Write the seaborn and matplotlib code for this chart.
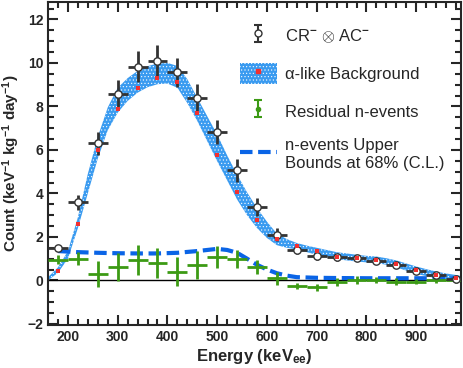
import matplotlib
matplotlib.use('Agg')
import matplotlib.pyplot as plt
import seaborn as sns
import numpy as np
import pandas as pd
from matplotlib.patches import Patch
from matplotlib.lines import Line2D

# bin centres (keV_ee)
energy = [180, 220, 260, 300, 340, 380, 420, 460, 500, 540, 580,
          620, 660, 700, 740, 780, 820, 860, 900, 940, 980]

# CR- x AC- data points
cr_ac = [1.47, 3.6, 6.3, 8.57, 9.83, 10.1, 9.56, 8.4, 6.82, 5.06, 3.38,
         2.1, 1.38, 1.1, 1.06, 1.03, 0.91, 0.72, 0.45, 0.23, 0.08]
cr_ac_err = [0.1, 0.35, 0.54, 0.65, 0.73, 0.7, 0.65, 0.65, 0.54, 0.53, 0.4,
             0.3, 0.18, 0.15, 0.15, 0.14, 0.13, 0.12, 0.1, 0.09, 0.08]

# alpha-like background central values (red squares)
bkg = [0.45, 2.6, 6.0, 7.9, 8.83, 9.3, 9.14, 7.68, 5.76, 4.06, 2.76,
       1.92, 1.57, 1.34, 1.09, 1.03, 0.94, 0.75, 0.47, 0.26, 0.11]

# alpha-like background band
band_e = [160, 180, 200, 220, 240, 260, 280, 300, 320, 340, 360, 380, 400,
          420, 440, 460, 480, 500, 520, 540, 560, 580, 600, 620, 640, 660,
          680, 700, 720, 740, 760, 780, 800, 820, 840, 860, 880, 900, 920,
          940, 960, 980, 990]
band_hi = [0.15, 0.6, 1.35, 2.9, 4.9, 6.6, 7.95, 8.85, 9.3, 9.63, 9.85, 9.97,
           10.0, 9.86, 9.25, 8.4, 7.55, 6.71, 5.75, 4.87, 4.05, 3.33, 2.7,
           2.15, 1.9, 1.72, 1.6, 1.5, 1.4, 1.3, 1.24, 1.18, 1.13, 1.1, 1.02,
           0.92, 0.78, 0.64, 0.52, 0.41, 0.32, 0.25, 0.2]
band_lo = [0.0, 0.35, 1.0, 2.4, 4.0, 5.6, 6.9, 7.71, 8.25, 8.63, 8.88, 9.02,
           9.05, 8.86, 8.15, 7.33, 6.4, 5.48, 4.6, 3.72, 3.0, 2.41, 1.95,
           1.62, 1.5, 1.42, 1.3, 1.18, 1.08, 0.98, 0.92, 0.87, 0.83, 0.8,
           0.72, 0.6, 0.45, 0.3, 0.2, 0.1, 0.04, 0.0, 0.0]

# residual n-events
resid = [0.95, 1.0, 0.29, 0.63, 0.95, 0.8, 0.41, 0.69, 1.06, 0.98, 0.6,
         0.1, -0.25, -0.32, -0.09, 0.01, 0.01, -0.05, -0.05, 0.0, 0.0]
resid_err = [0.2, 0.31, 0.6, 0.64, 0.7, 0.67, 0.65, 0.64, 0.5, 0.4, 0.32,
             0.3, 0.15, 0.15, 0.18, 0.18, 0.15, 0.15, 0.12, 0.1, 0.1]

# n-events upper bounds (68% C.L.)
ub_e = [180, 220, 260, 300, 340, 380, 420, 460, 500, 520, 540, 560, 580,
        600, 620, 640, 660, 700, 740, 800, 860, 920, 980]
ub = [1.35, 1.3, 1.27, 1.25, 1.24, 1.24, 1.27, 1.35, 1.45, 1.4, 1.27, 1.0,
      0.72, 0.5, 0.33, 0.22, 0.15, 0.12, 0.11, 0.1, 0.1, 0.1, 0.1]

bin_half = 20

sns.set_style('ticks')
plt.rcParams['font.family'] = ['Liberation Sans', 'DejaVu Sans']
plt.rcParams['mathtext.fontset'] = 'custom'
plt.rcParams['mathtext.rm'] = 'Liberation Sans'
plt.rcParams['mathtext.bf'] = 'Liberation Sans:bold'
plt.rcParams['mathtext.it'] = 'Liberation Sans:italic'
plt.rcParams['hatch.linewidth'] = 0.4

blue = '#3a9bf0'
dash_blue = '#0a64e6'
green = '#3c9a14'
grey = '#333333'
dash_pat = [3.0, 1.35]

fig = plt.figure(figsize=(4.63, 3.68), dpi=100)
ax = fig.add_axes([0.1037, 0.1168, 0.8920, 0.8778])

ax.axhline(0, color='black', lw=1.0, zorder=1)

# background band
ax.fill_between(band_e, band_lo, band_hi, facecolor=blue, edgecolor='white',
                hatch='.....', linewidth=0, zorder=2)

# upper bound dashed line
ub_df = pd.DataFrame({'E': ub_e, 'y': ub})
sns.lineplot(data=ub_df, x='E', y='y', ax=ax, color=dash_blue, lw=3,
             dashes=False, zorder=3).lines[-1].set_dashes(dash_pat)

# residual n-events
ax.errorbar(energy, resid, xerr=bin_half, yerr=resid_err, fmt='none',
            ecolor=green, elinewidth=2, zorder=4)

# CR- x AC- data
ax.errorbar(energy, cr_ac, xerr=bin_half, yerr=cr_ac_err, fmt='none',
            ecolor=grey, elinewidth=2, zorder=5)
sns.scatterplot(x=energy, y=cr_ac, ax=ax, marker='o', s=28,
                facecolor='white', edgecolor=grey, linewidth=1.0, zorder=6)

# background central values
sns.scatterplot(x=energy, y=bkg, ax=ax, marker='s', s=10, color='#f23030',
                linewidth=0, zorder=7)

ax.set_xlim(160, 990)
ax.set_ylim(-2.05, 12.8)
ax.set_xticks([200, 300, 400, 500, 600, 700, 800, 900])
ax.set_xticks(np.arange(180, 990, 20), minor=True)
ax.set_yticks([-2, 0, 2, 4, 6, 8, 10, 12])
ax.set_yticks(np.arange(-2, 12.8, 0.5), minor=True)
ax.set_yticklabels(['\u22122', '0', '2', '4', '6', '8', '10', '12'])
ax.tick_params(which='both', direction='in', top=True, right=True,
               width=1.5, labelsize=10)
ax.tick_params(which='major', length=7)
ax.tick_params(which='minor', length=4)
for lab in ax.get_xticklabels() + ax.get_yticklabels():
    lab.set_fontweight('bold')
for sp in ax.spines.values():
    sp.set_linewidth(1.5)

ax.set_xlabel(r'Energy (keV$_{\mathbf{ee}}$)', fontsize=12, fontweight='bold',
              labelpad=2)
ax.set_ylabel(r'Count (keV$^{\mathbf{-1}}$ kg$^{\mathbf{-1}}$ day$^{\mathbf{-1}}$)',
              fontsize=11, fontweight='bold', labelpad=4)

# legend proxies
h_cr = ax.errorbar([np.nan], [np.nan], yerr=[1], fmt='o', color=grey,
                   mfc='white', mec=grey, ms=5, capsize=3, elinewidth=1.5,
                   capthick=1.5)
h_bkg = (Patch(facecolor=blue, edgecolor='white', hatch='.....', lw=0),
         Line2D([], [], marker='s', ls='none', color='#f23030', ms=3))
h_res = ax.errorbar([np.nan], [np.nan], yerr=[1], fmt='o', color=green,
                    ms=3, capsize=3, elinewidth=1.5, capthick=1.5)
h_ub = Line2D([], [], color=dash_blue, lw=3, dashes=dash_pat)

ax.legend([h_cr, h_bkg, h_res, h_ub],
          [r'CR$^{\mathbf{-}}$ $\otimes$ AC$^{\mathbf{-}}$', '\u03b1-like Background',
           'Residual n-events', 'n-events Upper\nBounds at 68% (C.L.)'],
          loc='upper left', bbox_to_anchor=(0.518, 0.931),
          bbox_transform=fig.transFigure, frameon=False,
          fontsize=12, handlelength=2.2, handleheight=1.6, labelspacing=0.97,
          handletextpad=0.5, borderaxespad=0, borderpad=0)

plt.savefig('out.png', dpi=100)
